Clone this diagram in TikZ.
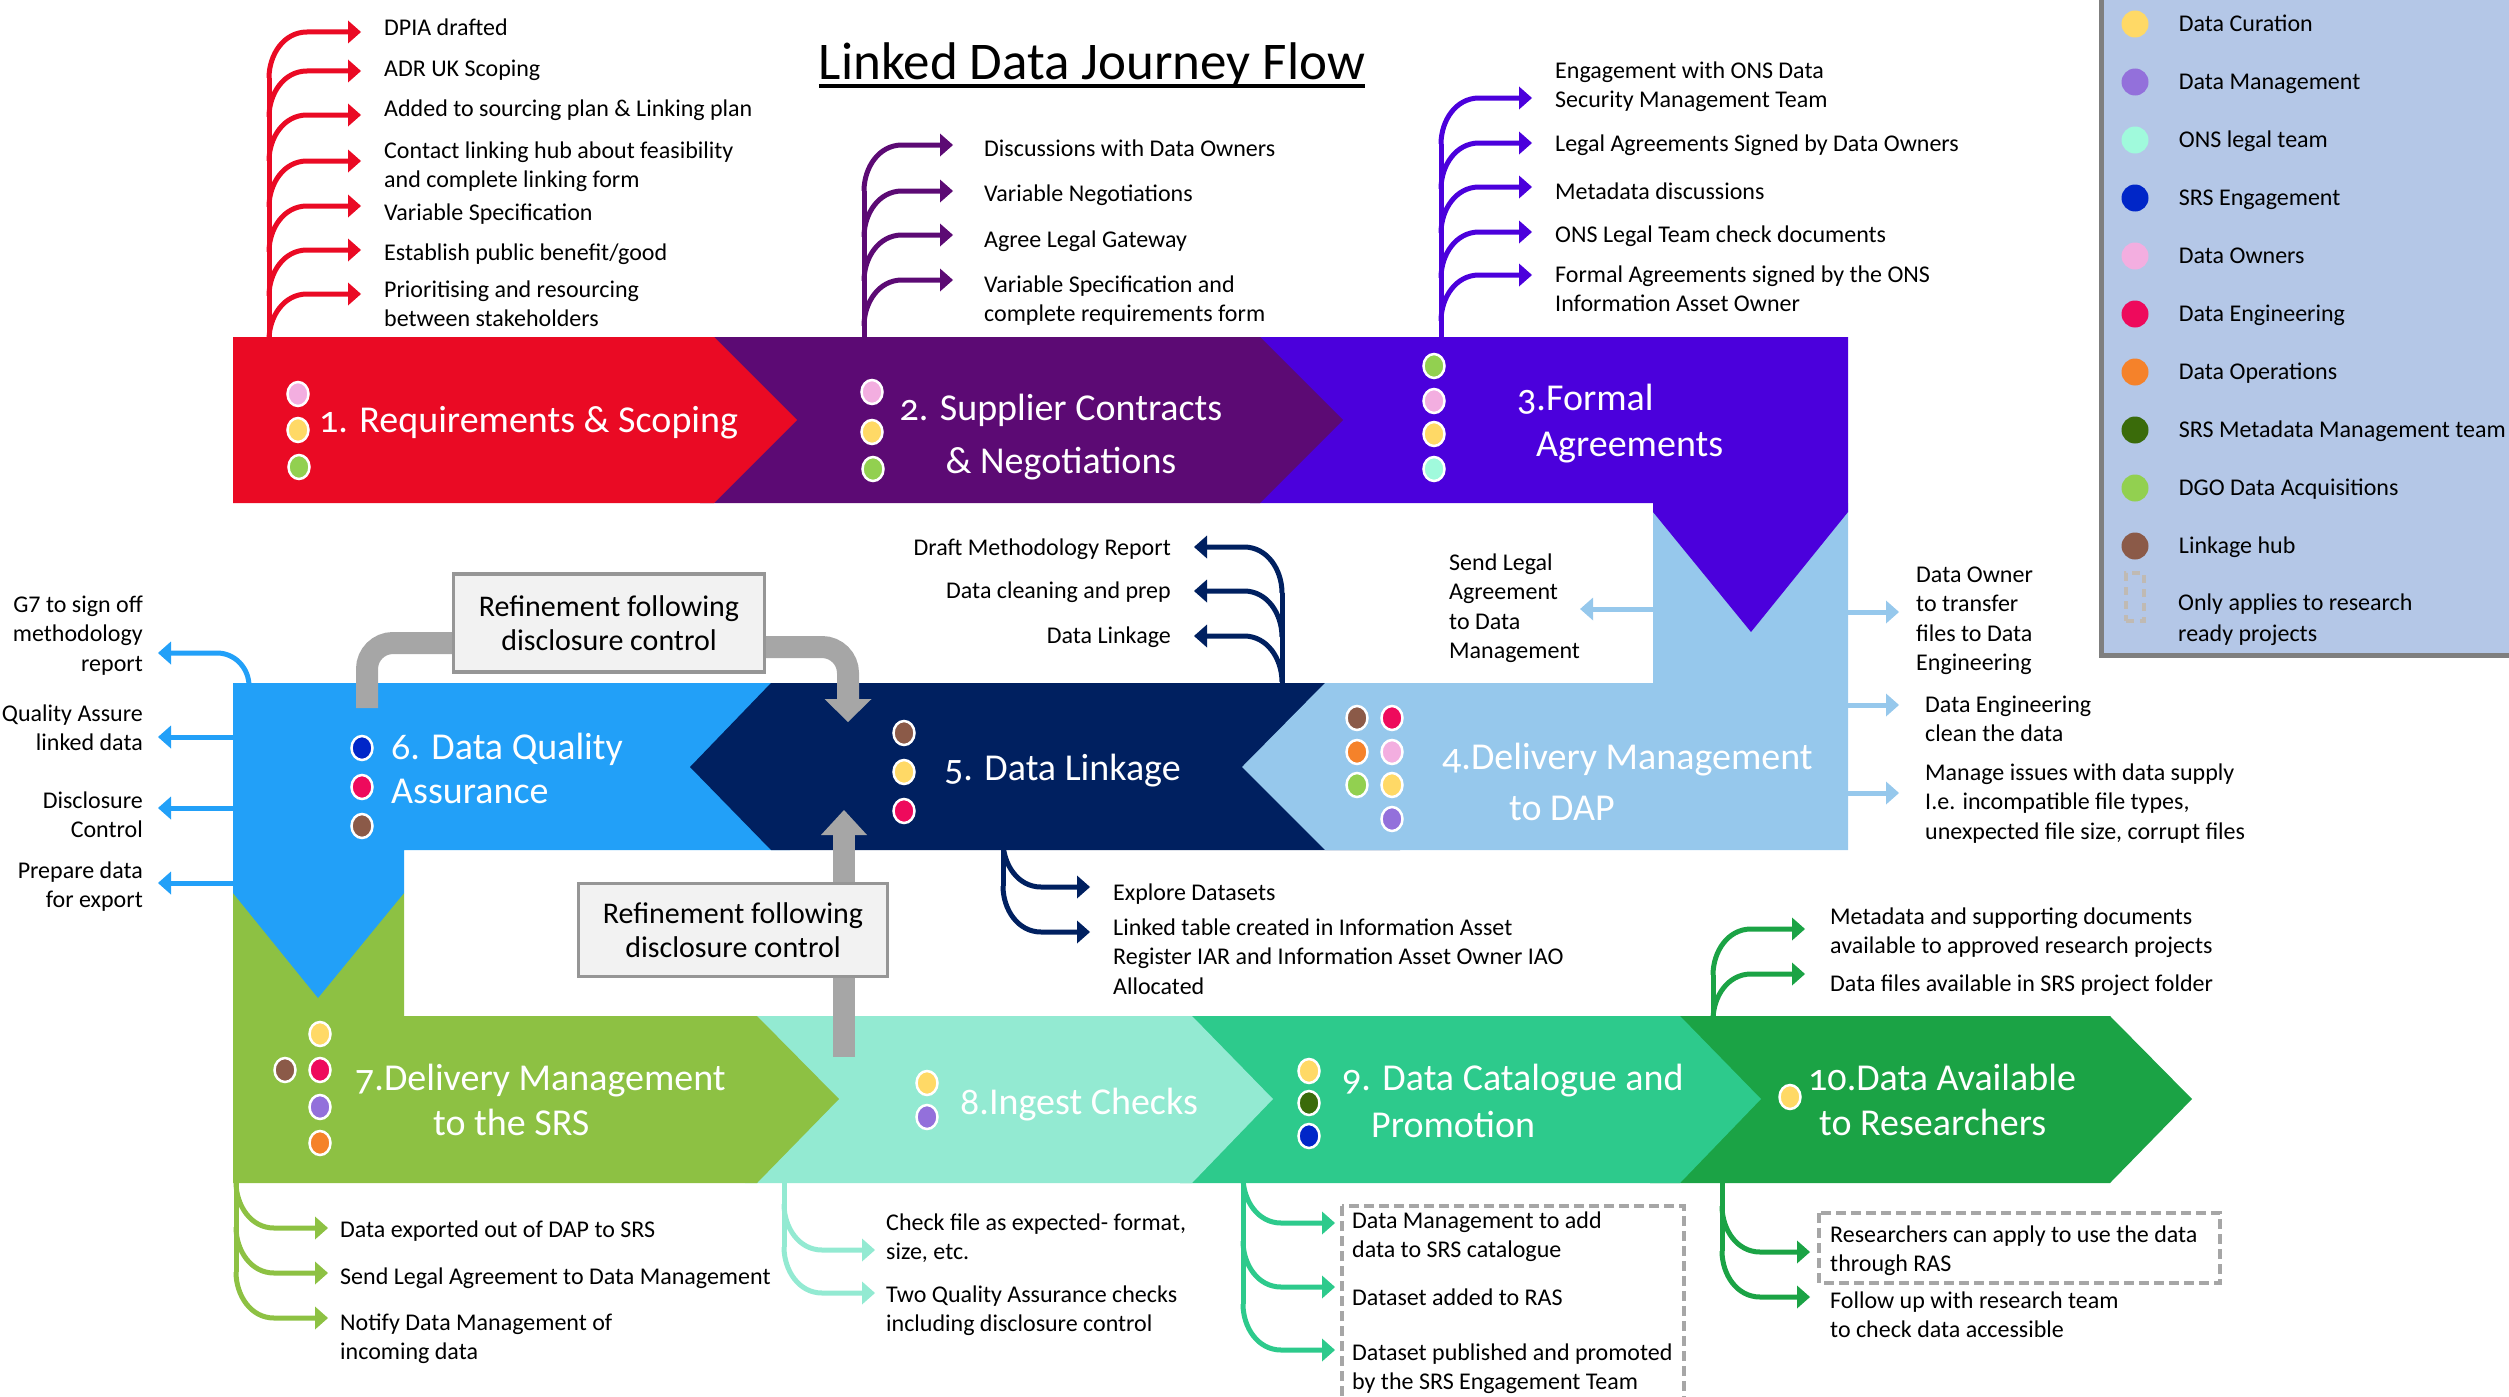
\documentclass[tikz,border=0pt]{standalone}
\usepackage{fontspec}
\setmainfont{Carlito}
\newfontfamily\bandfont{Carlito}[Numbers=OldStyle]
\usetikzlibrary{arrows.meta,positioning,shapes.geometric}

% band colours
\definecolor{reqred}{HTML}{EA0A24}
\definecolor{suppurple}{HTML}{5C0A74}
\definecolor{formviolet}{HTML}{4B00DC}
\definecolor{dapblue}{HTML}{96C8EC}
\definecolor{linknavy}{HTML}{002060}
\definecolor{qablue}{HTML}{22A0F8}
\definecolor{srsgreen}{HTML}{8DC143}
\definecolor{ingmint}{HTML}{93EAD2}
\definecolor{catgreen}{HTML}{2DCA8C}
\definecolor{availgreen}{HTML}{1BA345}
% team colours
\definecolor{curation}{HTML}{FFD966}
\definecolor{management}{HTML}{9370DB}
\definecolor{legalteam}{HTML}{A0FADC}
\definecolor{engagement}{HTML}{0026C8}
\definecolor{owners}{HTML}{F3AEE0}
\definecolor{engineering}{HTML}{EE0A5C}
\definecolor{operations}{HTML}{F5822A}
\definecolor{metadata}{HTML}{3A6B0A}
\definecolor{acquisitions}{HTML}{92D050}
\definecolor{linkhub}{HTML}{8B5A48}
% greys
\definecolor{legendbg}{HTML}{B4C7E7}
\definecolor{legedge}{HTML}{7F7F7F}
\definecolor{refgray}{HTML}{A6A6A6}
\definecolor{refedge}{HTML}{969696}
\definecolor{refbg}{HTML}{F2F2F2}
\definecolor{boxgray}{HTML}{A6A6A6}
\definecolor{bracketgray}{HTML}{C0BAB3}

\tikzset{
  item/.style={font=\fontsize{24}{29.5}\selectfont, inner sep=0pt, anchor=base west, align=left},
  itemr/.style={item, anchor=base east, align=right},
  bandlabel/.style={font=\bandfont\fontsize{38}{46}\selectfont, text=white, inner sep=0pt, anchor=base west, align=left},
  roledot/.style={ellipse, fill=#1, draw=white, line width=2.5pt, minimum width=21pt, minimum height=24pt, inner sep=0pt},
  legdot/.style={circle, fill=#1, minimum size=27pt, inner sep=0pt},
  legtext/.style={font=\fontsize{24}{31}\selectfont, inner sep=0pt, text height=18pt, text depth=3pt},
  stemline/.style={draw=#1, line width=5pt},
  twig/.style={stemline=#1, -{Triangle[width=23pt,length=13pt,line width=0pt]}},
  refbox/.style={draw=refedge, fill=refbg, line width=3.5pt, align=center, font=\fontsize{30}{34}\selectfont, inner sep=0pt},
  refine/.style={draw=refgray, line width=22pt, rounded corners=26pt},
  dashbox/.style={draw=boxgray, line width=3.5pt, dash pattern=on 10pt off 5pt},
}

\begin{document}
\begin{tikzpicture}[x=1pt,y=-1pt]
\useasboundingbox (0,0) rectangle (2509,1397);
\clip (0,0) rectangle (2509,1397);

% title
\node[font=\fontsize{53}{60}\selectfont, inner sep=0pt, anchor=base] (title) at (1092,80) {Linked Data Journey Flow};
\draw[line width=3.5pt] ([yshift=-6pt]title.base west) -- ([yshift=-6pt]title.base east);

% bands, back to front
\fill[availgreen] (1650,1016) -- (2110,1016) -- (2192,1099) -- (2110,1183) -- (1650,1183) -- cycle;
\fill[catgreen] (1180,1016) -- (1680,1016) -- (1761,1099) -- (1680,1183) -- (1180,1183) -- cycle;
\fill[ingmint] (745,1016) -- (1192,1016) -- (1273,1099) -- (1192,1183) -- (745,1183) -- cycle;
\fill[srsgreen] (233,893) -- (404,893) -- (404,1016) -- (757,1016) -- (839,1099) -- (757,1183) -- (233,1183) -- cycle;
\fill[qablue] (233,683) -- (790,683) -- (790,850) -- (404,850) -- (404,893) -- (318,998) -- (233,893) -- cycle;
\fill[linknavy] (771,683) -- (1400,683) -- (1400,850) -- (771,850) -- (690,767) -- cycle;
\fill[dapblue] (1653,503) -- (1848,503) -- (1848,850) -- (1325,850) -- (1242,767) -- (1325,683) -- (1653,683) -- cycle;
\fill[formviolet] (1250,337) -- (1848,337) -- (1848,512) -- (1751,632) -- (1653,512) -- (1653,503) -- (1250,503) -- cycle;
\fill[suppurple] (700,337) -- (1260,337) -- (1343,420) -- (1260,503) -- (700,503) -- cycle;
\fill[reqred] (233,337) -- (714,337) -- (797,420) -- (714,503) -- (233,503) -- cycle;

% band labels (base = last line)
\node[bandlabel] (req) at (319,432) {1. Requirements \& Scoping};
\node[bandlabel, anchor=base, align=center] (supplier) at (1061,473) {2. Supplier Contracts\\[7pt]\& Negotiations};
\node[bandlabel] (formal) at (1517,456) {3.Formal\\\hspace{19pt}Agreements};
\node[bandlabel] (delivdap) at (1442,820) {4.Delivery Management\\[5pt]\hspace{67pt}to DAP};
\node[bandlabel] (linkage) at (944,780) {5. Data Linkage};
\node[bandlabel] (quality) at (391,803) {6. Data Quality\\[-2pt]Assurance};
\node[bandlabel] (delivsrs) at (355,1135) {7.Delivery Management\\[-1pt]\hspace{78pt}to the SRS};
\node[bandlabel] (ingest) at (960,1114) {8.Ingest Checks};
\node[bandlabel] (catalogue) at (1342,1137) {9. Data Catalogue and\\[1pt]\hspace{29pt}Promotion};
\node[bandlabel] (available) at (1808,1135) {10.Data Available\\[-1pt]\hspace{11pt}to Researchers};

% team dots
\foreach \x/\y/\col [count=\k] in {298/394/owners, 298/430/curation, 299/467/acquisitions,
    872/392/owners, 872/432/curation, 873/469/acquisitions,
    1434/366/acquisitions, 1434/401/owners, 1434/434/curation, 1434/469/legalteam,
    1357/718/linkhub, 1392/718/engineering, 1357/752/operations, 1392/752/owners,
    1357/785/acquisitions, 1392/785/curation, 1392/819/management,
    904/733/linkhub, 904/772/curation, 904/811/engineering,
    362/748/engagement, 362/787/engineering, 362/826/linkhub,
    320/1034/curation, 285/1070/linkhub, 320/1070/engineering, 320/1107/management, 320/1143/operations,
    927/1083/curation, 927/1117/management,
    1309/1071/curation, 1309/1103/metadata, 1309/1136/engagement,
    1790/1097/curation}
  \node[roledot=\col] (dot\k) at (\x,\y) {};

% 1 requirements
\coordinate (rt) at (269,340);
\draw[stemline=reqred] (rt) -- (rt |- 0,78);
\foreach \ay/\ty/\nm/\txt in {32/36/dpia/{DPIA drafted}, 71/77/adr/{ADR UK Scoping},
    115/117/added/{Added to sourcing plan \& Linking plan},
    161/187.5/contact/{Contact linking hub about feasibility\\and complete linking form},
    206/220/varspec/{Variable Specification}, 250/260/benefit/{Establish public benefit/good},
    294/326.5/priority/{Prioritising and resourcing\\between stakeholders}}{
  \node[item] (\nm) at (384,\ty) {\txt};
  \draw[twig=reqred, shorten >=23pt] (rt |- 0,\ay+46) to[out=90,in=180] ++(38,-46) -- (0,\ay -| \nm.west);
}

% 2 supplier contracts
\coordinate (st) at (864,340);
\draw[stemline=suppurple] (st) -- (st |- 0,191);
\foreach \ay/\ty/\nm/\txt in {145/156/discuss/{Discussions with Data Owners},
    191/201/varneg/{Variable Negotiations}, 235/247/gateway/{Agree Legal Gateway},
    280/321.5/reqform/{Variable Specification and\\complete requirements form}}{
  \node[item] (\nm) at (984,\ty) {\txt};
  \draw[twig=suppurple, shorten >=31pt] (st |- 0,\ay+46) to[out=90,in=180] ++(38,-46) -- (0,\ay -| \nm.west);
}

% 3 formal agreements
\coordinate (ft) at (1441,340);
\draw[stemline=formviolet] (ft) -- (ft |- 0,144);
\foreach \ay/\ty/\nm/\txt in {98/107.5/onsdata/{Engagement with ONS Data\\Security Management Team},
    143/151/signed/{Legal Agreements Signed by Data Owners},
    187/199/metadisc/{Metadata discussions}, 232/242/legalcheck/{ONS Legal Team check documents},
    275/311.5/formalsign/{Formal Agreements signed by the ONS\\Information Asset Owner}}{
  \node[item] (\nm) at (1555,\ty) {\txt};
  \draw[twig=formviolet, shorten >=23pt] (ft |- 0,\ay+46) to[out=90,in=180] ++(38,-46) -- (0,\ay -| \nm.west);
}

% 4 delivery management to DAP
\coordinate (dapl) at (1653,609);
\coordinate (dapr) at (1848,683);
\node[item] (sendlegal) at (1449,658.5) {Send Legal\\Agreement\\to Data\\Management};
\draw[twig=dapblue] (dapl) -- (sendlegal.east |- dapl);
\foreach \ay/\ty/\tx/\nm/\txt [evaluate=\tx as \gap using \tx-1899] in {
    612/670.5/1916/transfer/{Data Owner\\to transfer\\files to Data\\Engineering},
    705/741.5/1925/cleandata/{Data Engineering\\clean the data},
    793/839/1925/supply/{Manage issues with data supply\\I.e. incompatible file types,\\unexpected file size, corrupt files}}{
  \node[item] (\nm) at (\tx,\ty) {\txt};
  \draw[twig=dapblue, shorten >=\gap pt] (dapr |- 0,\ay) -- (0,\ay -| \nm.west);
}

% 5 data linkage
\coordinate (nt) at (1282,683);
\draw[stemline=linknavy] (nt) -- (nt |- 0,593);
\foreach \ay/\ty/\nm/\txt in {547/555/draftmeth/{Draft Methodology Report},
    591/598/cleanprep/{Data cleaning and prep}, 636/643/linkdata/{Data Linkage}}{
  \node[itemr] (\nm) at (1171,\ty) {\txt};
  \draw[twig=linknavy, shorten >=23pt] (nt |- 0,\ay+46) to[out=90,in=0] ++(-38,-46) -- (0,\ay -| \nm.east);
}
\coordinate (nb) at (1003,845);
\draw[stemline=linknavy] (nb) -- (nb |- 0,886);
\foreach \ay/\ty/\nm/\txt in {887/900/explore/{Explore Datasets},
    932/994/iar/{Linked table created in Information Asset\\Register IAR and Information Asset Owner IAO\\Allocated}}{
  \node[item] (\nm) at (1113,\ty) {\txt};
  \draw[twig=linknavy, shorten >=23pt] (nb |- 0,\ay-46) to[out=270,in=180] ++(38,46) -- (0,\ay -| \nm.west);
}

% 6 data quality assurance
\coordinate (qa) at (236,683);
\coordinate (qacurve) at (249,686);
\node[itemr] (gseven) at (143,671) {G7 to sign off\\methodology\\report};
\draw[twig=qablue, shorten >=15pt] (qacurve) to[out=90,in=0] ++(-32,-33) -- (0,653 -| gseven.east);
\foreach \ay/\ty/\nm/\txt in {737/750.5/qalinked/{Quality Assure\\linked data},
    808/837.5/disclosure/{Disclosure\\Control}, 883/907.5/export/{Prepare data\\for export}}{
  \node[itemr] (\nm) at (143,\ty) {\txt};
  \draw[twig=qablue, shorten >=15pt] (qa |- 0,\ay) -- (0,\ay -| \nm.east);
}

% 7 delivery management to the SRS
\coordinate (gt) at (236,1178);
\draw[stemline=srsgreen] (gt) -- (gt |- 0,1272);
\foreach \ay/\ty/\nm/\txt in {1228/1237/exported/{Data exported out of DAP to SRS},
    1273/1284/sendagree/{Send Legal Agreement to Data Management},
    1318/1359.5/notify/{Notify Data Management of\\incoming data}}{
  \node[item] (\nm) at (340,\ty) {\txt};
  \draw[twig=srsgreen, shorten >=12pt] (gt |- 0,\ay-46) to[out=270,in=180] ++(38,46) -- (0,\ay -| \nm.west);
}

% 8 ingest checks
\coordinate (it) at (784,1178);
\draw[stemline=ingmint] (it) -- (it |- 0,1247);
\foreach \ay/\ty/\nm/\txt in {1250/1259.5/checkfile/{Check file as expected- format,\\size, etc.},
    1293/1331.5/twoqa/{Two Quality Assurance checks\\including disclosure control}}{
  \node[item] (\nm) at (886,\ty) {\txt};
  \draw[twig=ingmint, shorten >=11pt] (it |- 0,\ay-46) to[out=270,in=180] ++(38,46) -- (0,\ay -| \nm.west);
}

% 9 data catalogue
\coordinate (ct) at (1243,1178);
\draw[stemline=catgreen] (ct) -- (ct |- 0,1304);
\draw[dashbox] (1342,1206) rectangle (1684,1420);
\foreach \ay/\ty/\nm/\txt in {1223/1257.5/addcat/{Data Management to add\\data to SRS catalogue},
    1287/1305/addras/{Dataset added to RAS},
    1350/1389.5/promote/{Dataset published and promoted\\by the SRS Engagement Team}}{
  \node[item] (\nm) at (1352,\ty) {\txt};
  \draw[twig=catgreen, shorten >=17pt] (ct |- 0,\ay-46) to[out=270,in=180] ++(38,46) -- (0,\ay -| \nm.west);
}

% 10 data available
\coordinate (at) at (1713,1020);
\draw[stemline=availgreen] (at) -- (at |- 0,975);
\foreach \ay/\ty/\nm/\txt in {929/953.5/supportdocs/{Metadata and supporting documents\\available to approved research projects},
    974/991/srsfolder/{Data files available in SRS project folder}}{
  \node[item] (\nm) at (1830,\ty) {\txt};
  \draw[twig=availgreen, shorten >=25pt] (at |- 0,\ay+46) to[out=90,in=180] ++(38,-46) -- (0,\ay -| \nm.west);
}
\coordinate (ab) at (1722,1178);
\draw[stemline=availgreen] (ab) -- (ab |- 0,1251);
\draw[dashbox] (1819,1213) rectangle (2220,1283);
\foreach \ay/\ty/\nm/\txt in {1252/1271.5/applyras/{Researchers can apply to use the data\\through RAS},
    1297/1337.5/followup/{Follow up with research team\\to check data accessible}}{
  \node[item] (\nm) at (1830,\ty) {\txt};
  \draw[twig=availgreen, shorten >=20pt] (ab |- 0,\ay-46) to[out=270,in=180] ++(38,46) -- (0,\ay -| \nm.west);
}

% refinement loops
\coordinate (qain) at (367,708);
\coordinate (linkdown) at (848,722);
\coordinate (ingup) at (844,1057);
\coordinate (linkup) at (844,810);
\node[refbox, minimum width=311pt, minimum height=98pt] (rtop) at (609,623) {Refinement following\\disclosure control};
\node[refbox, minimum width=309pt, minimum height=93pt] (rbot) at (733,930) {Refinement following\\disclosure control};
\draw[refine] ([xshift=4pt,yshift=-20pt]rtop.west) -| (qain);
\draw[refine, -{Triangle[width=47pt,length=23pt,line width=0pt]}] ([xshift=-4pt,yshift=-24pt]rtop.east) -| (linkdown);
\draw[refine] (rbot.south -| ingup) -- (ingup);
\draw[refine, -{Triangle[width=46pt,length=25pt,line width=0pt]}] (rbot.north -| linkup) -- (linkup);
\node[refbox, minimum width=311pt, minimum height=98pt] at (rtop) {Refinement following\\disclosure control};
\node[refbox, minimum width=309pt, minimum height=93pt] at (rbot) {Refinement following\\disclosure control};

% legend
\draw[draw=legedge, fill=legendbg, line width=5pt] (2101,-10) rectangle (2530,655);
\foreach \col/\txt [count=\k] in {curation/Data Curation, management/Data Management,
    legalteam/ONS legal team, engagement/SRS Engagement, owners/Data Owners,
    engineering/Data Engineering, operations/Data Operations,
    metadata/SRS Metadata Management team, acquisitions/DGO Data Acquisitions, linkhub/Linkage hub}{
  \node[legdot=\col] (ld\k) at (2135,{24+58*(\k-1)}) {};
  \node[legtext, right=30pt of ld\k] (lt\k) {\txt};
}
\node[draw=bracketgray, line width=3.5pt, dash pattern=on 8pt off 6pt, minimum width=18pt, minimum height=48pt, inner sep=0pt] (ld11) at (2135,597) {};
\node[font=\fontsize{24}{31}\selectfont, inner sep=0pt, anchor=base west, align=left] (lt11) at (2178,641) {Only applies to research\\ready projects};
\end{tikzpicture}
\end{document}
